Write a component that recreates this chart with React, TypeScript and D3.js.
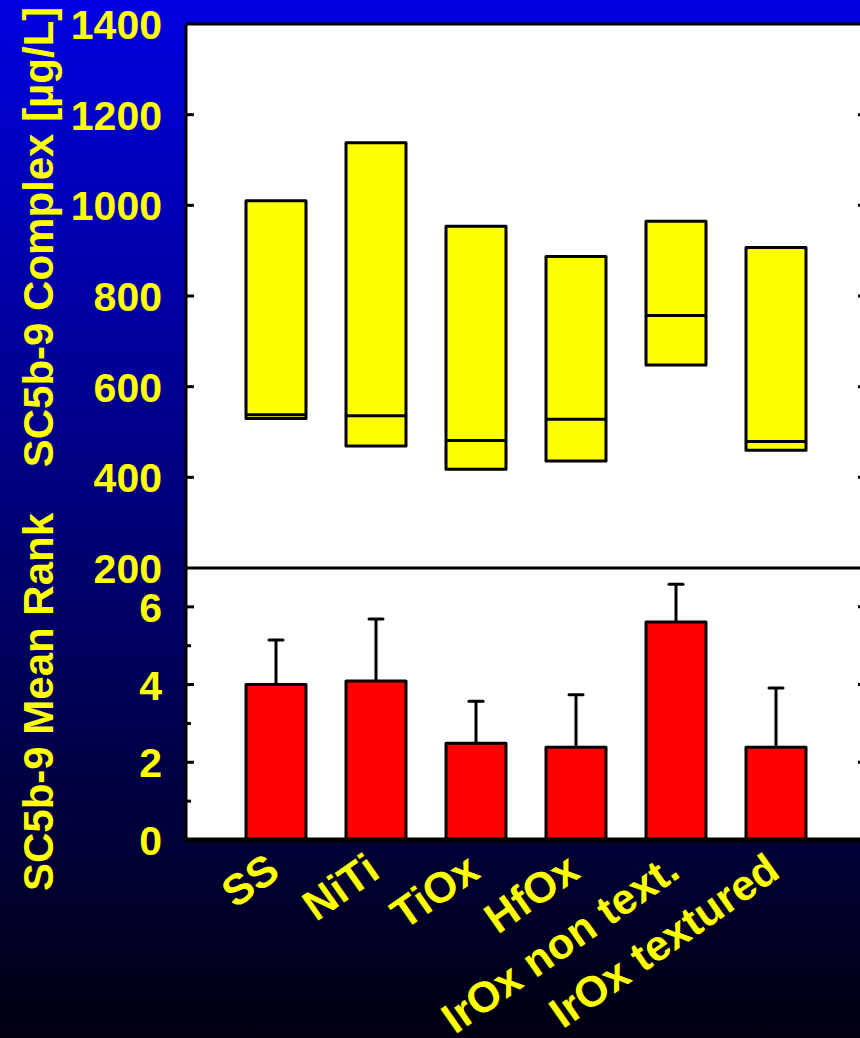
import React from "react";
import * as d3 from "d3";

const categories = ["SS", "NiTi", "TiOx", "HfOx", "IrOx non text.", "IrOx textured"];
const boxLow = [530, 469, 418, 436, 648, 460];
const boxMedian = [538, 536, 481, 528, 757, 479];
const boxHigh = [1010, 1138, 954, 887, 965, 907];
const rankMean = [4.0, 4.09, 2.49, 2.39, 5.61, 2.39];
const rankSD = [1.15, 1.6, 1.08, 1.35, 0.97, 1.52];
const topTicks = [200, 400, 600, 800, 1000, 1200, 1400];
const botTicks = [0, 2, 4, 6];
const botMinor = [1, 3, 5];

const W = 860, H = 1038;
const L = 186, R = 866, T = 24, M = 568, B = 840;
const FONT = "'Liberation Sans', Arial, sans-serif";
const YEL = "#ffff00";

export default function App() {
  const x = d3.scaleBand<string>().domain(categories).range([226, 826]).paddingInner(0.4).paddingOuter(0.2);
  const yT = d3.scaleLinear().domain([200, 1400]).range([M, T]);
  const yB = d3.scaleLinear().domain([0, 7]).range([B, M]);
  const bw = x.bandwidth();
  return (
    <svg width={W} height={H} style={{ position: "absolute", left: 0, top: 0 }} fontFamily={FONT}>
      <defs>
        <linearGradient id="bg" x1="0" y1="0" x2="0" y2="1">
          <stop offset="0" stopColor="#0000e0" />
          <stop offset="1" stopColor="#000010" />
        </linearGradient>
      </defs>
      <rect x={0} y={0} width={W} height={H} fill="url(#bg)" />
      <rect x={L} y={T} width={R - L} height={B - T} fill="#fff" />
      {categories.map((c, i) => (
        <g key={"b" + i}>
          <rect x={x(c)!} y={yT(boxHigh[i])} width={bw} height={yT(boxLow[i]) - yT(boxHigh[i])}
            fill={YEL} stroke="#000" strokeWidth={3} strokeLinejoin="round" />
          <line x1={x(c)!} x2={x(c)! + bw} y1={yT(boxMedian[i])} y2={yT(boxMedian[i])} stroke="#000" strokeWidth={3} />
        </g>
      ))}
      {categories.map((c, i) => {
        const cx = x(c)! + bw / 2;
        const top = yB(rankMean[i]);
        const et = yB(rankMean[i] + rankSD[i]);
        return (
          <g key={"r" + i}>
            <line x1={cx} x2={cx} y1={top} y2={et} stroke="#000" strokeWidth={3} />
            <line x1={cx - 7} x2={cx + 7} y1={et} y2={et} stroke="#000" strokeWidth={3} strokeLinecap="round" />
            <rect x={x(c)!} y={top} width={bw} height={B - top} fill="#ff0000" stroke="#000" strokeWidth={3} strokeLinejoin="round" />
          </g>
        );
      })}
      <line x1={L} x2={R} y1={T} y2={T} stroke="#000" strokeWidth={3} />
      <line x1={L} x2={R} y1={M} y2={M} stroke="#000" strokeWidth={3} />
      <line x1={L} x2={L} y1={T} y2={B} stroke="#000" strokeWidth={3} />
      <line x1={R} x2={R} y1={T} y2={B} stroke="#000" strokeWidth={3} />
      <line x1={L - 2} x2={W} y1={B} y2={B} stroke="#000" strokeWidth={5} />
      {topTicks.map((t) => (
        <g key={"tt" + t}>
          {t !== 200 && t !== 1400 && (
            <>
              <line x1={L} x2={L + 8} y1={yT(t)} y2={yT(t)} stroke="#000" strokeWidth={3} />
              <line x1={R - 8} x2={R} y1={yT(t)} y2={yT(t)} stroke="#000" strokeWidth={3} />
            </>
          )}
          <text x={162} y={yT(t) + 15} textAnchor="end" fontSize={41} fontWeight="bold" fill={YEL}>{t}</text>
        </g>
      ))}
      {botTicks.map((t) => (
        <g key={"bt" + t}>
          {t !== 0 && (
            <>
              <line x1={L} x2={L + 8} y1={yB(t)} y2={yB(t)} stroke="#000" strokeWidth={3} />
              <line x1={R - 8} x2={R} y1={yB(t)} y2={yB(t)} stroke="#000" strokeWidth={3} />
            </>
          )}
          <text x={162} y={yB(t) + 15} textAnchor="end" fontSize={41} fontWeight="bold" fill={YEL}>{t}</text>
        </g>
      ))}
      {botMinor.map((t) => (
        <g key={"bm" + t}>
          <line x1={L} x2={L + 5} y1={yB(t)} y2={yB(t)} stroke="#000" strokeWidth={3} />
          <line x1={R - 5} x2={R} y1={yB(t)} y2={yB(t)} stroke="#000" strokeWidth={3} />
        </g>
      ))}
      <text transform={`translate(53,237) rotate(-90)`} textAnchor="middle" fontSize={42} fontWeight="bold" fill={YEL}>SC5b-9 Complex [µg/L]</text>
      <text transform={`translate(53,702) rotate(-90)`} textAnchor="middle" fontSize={42} fontWeight="bold" fill={YEL}>SC5b-9 Mean Rank</text>
      {categories.map((c, i) => {
        const cx = x(c)! + bw / 2;
        return (
          <text key={"xl" + i} transform={`translate(${cx + 6},${876}) rotate(-35)`} textAnchor="end"
            fontSize={43} fontWeight="bold" fill={YEL}>{c}</text>
        );
      })}
    </svg>
  );
}
